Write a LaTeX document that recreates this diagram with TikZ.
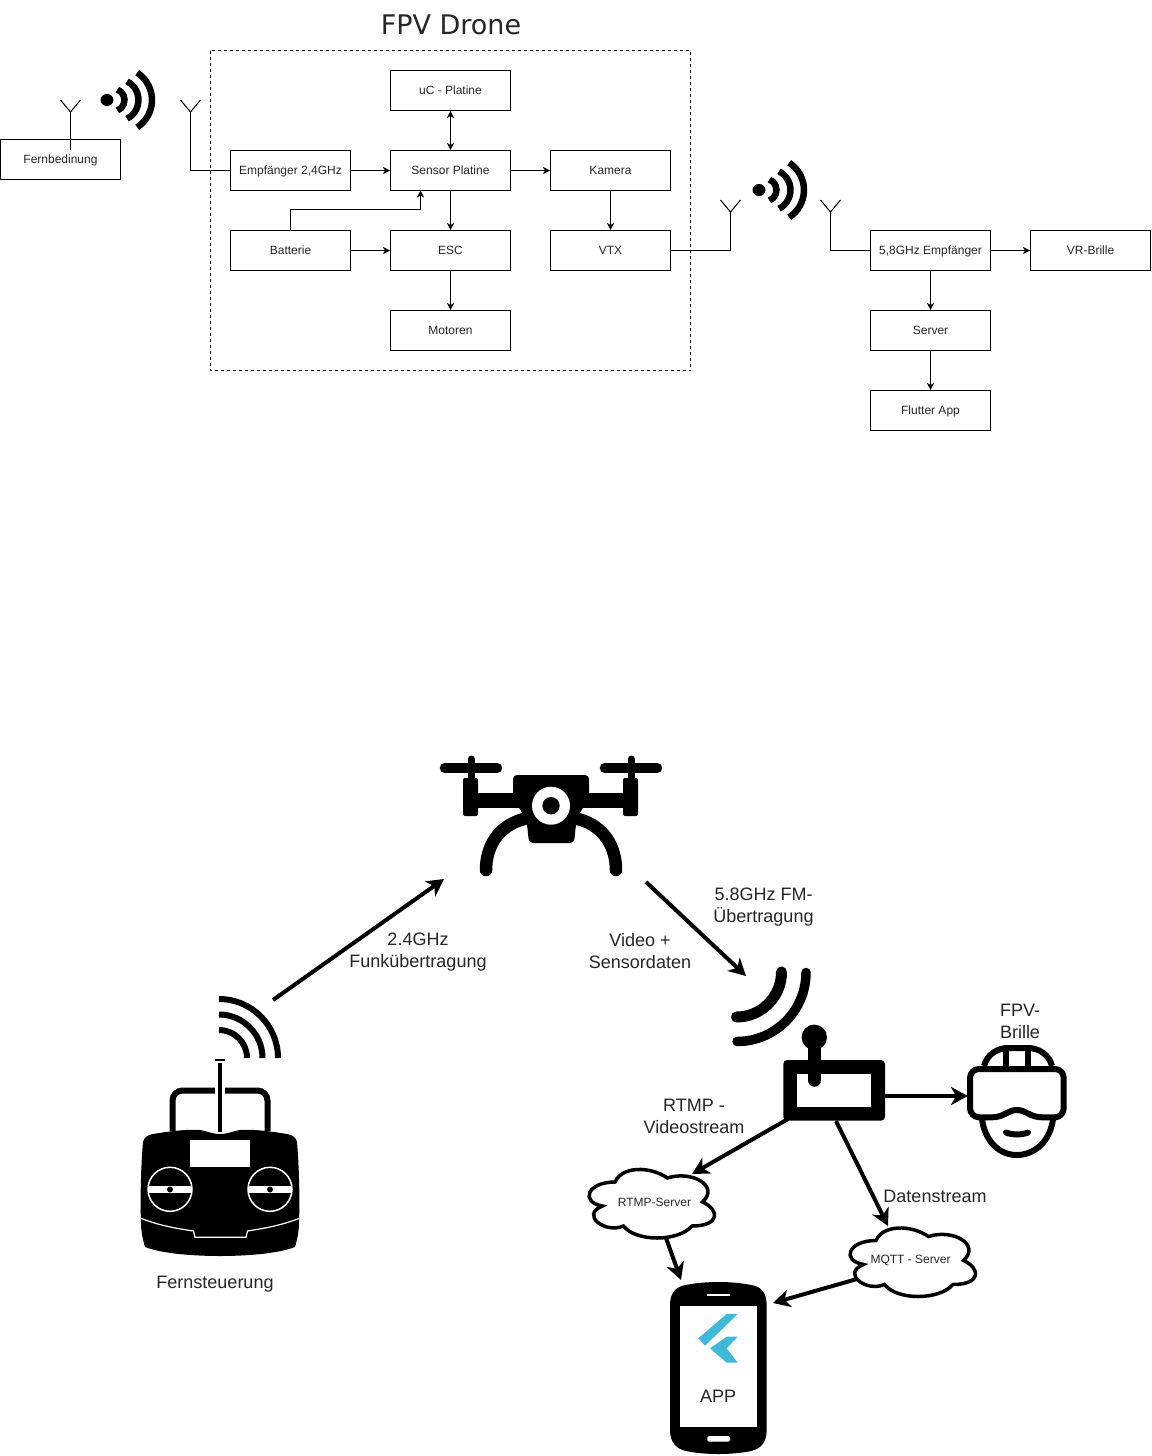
\documentclass[tikz,border=0pt]{standalone}
\usepackage{fontspec}
\setmainfont{Liberation Sans}
\newfontfamily\titlefont{DejaVu Sans}
\usetikzlibrary{arrows.meta}
\definecolor{flutter}{HTML}{40B8D8}
\tikzset{
  box/.style={draw=black,line width=1pt,minimum width=120pt,minimum height=40pt,inner sep=0pt,font=\fontsize{12}{14}\selectfont,text=black!85,text height=10pt,text depth=2pt},
  frame/.style={draw=black,line width=1pt,dash pattern=on 3pt off 3pt},
  wire/.style={draw=black,line width=1pt},
  arr/.style={wire,-{Stealth[length=7pt,width=7pt,inset=2pt]}},
  dblarr/.style={wire,{Stealth[length=7pt,width=7pt,inset=2pt]}-{Stealth[length=7pt,width=7pt,inset=2pt]}},
  bigarr/.style={draw=black,line width=4pt,-{Stealth[length=17pt,width=18pt,inset=5pt]}},
  lbl/.style={align=center,font=\fontsize{18}{22}\selectfont,text=black!85,inner sep=0pt},
  cloudlbl/.style={font=\fontsize{12}{14}\selectfont,text=black!85,inner sep=0pt},
  cloudline/.style={draw=black,fill=white,line width=3.5pt},
  sig/.style={draw=black,line width=6pt}
}
\newcommand{\cloudpath}[2]{%
  \begin{scope}[shift={(#1,#2)}]
  \path[cloudline] (35,20) .. controls (7,20) and (0,40) .. (22.4,44)
    .. controls (0,52.8) and (25.2,72) .. (43.4,64)
    .. controls (56,80) and (98,80) .. (112,64)
    .. controls (140,64) and (140,48) .. (122.5,40)
    .. controls (140,24) and (112,8) .. (87.5,16)
    .. controls (70,4) and (42,4) .. (35,20) -- cycle;
  \end{scope}}
\newcommand{\wifisymbol}[2]{%
  \begin{scope}[shift={(#1,#2)}]
  \fill (107,100) ellipse[x radius=6.5,y radius=6];
  \draw[line width=6.5pt] (113.2,100) ++(-68:11.3) arc[start angle=-68,end angle=68,radius=11.3];
  \draw[line width=6.5pt] (117.5,100) ++(-63:21) arc[start angle=-63,end angle=63,radius=21];
  \draw[line width=6.5pt] (119.5,100) ++(-57:32.5) arc[start angle=-57,end angle=57,radius=32.5];
  \end{scope}}
\begin{document}
\begin{tikzpicture}[x=1pt,y=-1pt]
\useasboundingbox (0,0) rectangle (1151,1456);
\fill[white] (0,0) rectangle (1151,1456);

% ---------- upper block diagram
\draw[frame] (210.5,50.5) rectangle (690.5,370.5);
\node[inner sep=0pt,font=\titlefont\fontsize{27}{32}\selectfont,text=black!85] (title) at (451,25) {FPV Drone};

\node[box] (fern) at (60.5,159.5) {Fernbedinung};
\node[box] (uc) at (450.5,90.5) {uC - Platine};
\node[box] (emp) at (290.5,170.5) {Empfänger 2,4GHz};
\node[box] (sensor) at (450.5,170.5) {Sensor Platine};
\node[box] (kamera) at (610.5,170.5) {Kamera};
\node[box] (batt) at (290.5,250.5) {Batterie};
\node[box] (esc) at (450.5,250.5) {ESC};
\node[box] (vtx) at (610.5,250.5) {VTX};
\node[box] (motoren) at (450.5,330.5) {Motoren};
\node[box] (emp58) at (930.5,250.5) {5,8GHz Empfänger};
\node[box] (vr) at (1090.5,250.5) {VR-Brille};
\node[box] (server) at (930.5,330.5) {Server};
\node[box] (flutterapp) at (930.5,410.5) {Flutter App};

% antennas
\coordinate (a1) at (70.5,112);
\coordinate (a2) at (190.5,112);
\coordinate (a3) at (730.5,212);
\coordinate (a4) at (830.5,212);
\coordinate (a1end) at (70.5,150);
\foreach \p in {a1,a2,a3,a4}{
  \draw[wire] (\p) ++(-10,-12) -- (\p) -- ++(10,-12);
}
\draw[wire] (a1) -- (a1end);
\draw[wire] (a2) |- (emp.west);
\draw[wire] (vtx.east) -| (a3);
\draw[wire] (a4) |- (emp58.west);

\wifisymbol{0}{0}
\wifisymbol{652}{90}

\draw[dblarr] (uc.south) -- (sensor.north);
\draw[arr] (emp.east) -- (sensor.west);
\draw[arr] (sensor.east) -- (kamera.west);
\draw[arr] (sensor.south) -- (esc.north);
\draw[arr] (kamera.south) -- (vtx.north);
\draw[arr] (batt.east) -- (esc.west);
\draw[arr] (esc.south) -- (motoren.north);
\coordinate (sensorin) at (420.5,190.5);
\draw[arr] (batt.north) |- (420.5,209.5) -- (sensorin);
\draw[arr] (emp58.east) -- (vr.west);
\draw[arr] (emp58.south) -- (server.north);
\draw[arr] (server.south) -- (flutterapp.north);

% ---------- drone icon
\fill[rounded corners=2pt] (463,778) rectangle (478,816);
\fill[rounded corners=2pt] (623,778) rectangle (638,816);
\fill (470,793) rectangle (632,808);
\draw[line width=7pt,line cap=round] (471,759) -- (471,782);
\draw[line width=7pt,line cap=round] (631,759) -- (631,782);
\draw[line width=10.5pt,line cap=round] (445,768) -- (497,768);
\draw[line width=10.5pt,line cap=round] (605,768) -- (657,768);
\draw[line width=12.5pt,line cap=round] (524,819) .. controls (497,826) and (486,848) .. (486,870);
\draw[line width=12.5pt,line cap=round] (578,819) .. controls (605,826) and (616,848) .. (616,870);
\fill[rounded corners=4pt] (513,775) -- (589,775) -- (589,800) -- (580,812) -- (576,824) -- (574,843) -- (529,843) -- (527,824) -- (522,812) -- (513,800) -- cycle;
\fill[white] (551,805.7) circle[radius=19];
\fill (551,805.7) circle[radius=8.7];

% ---------- remote control icon
\coordinate (rcsig) at (219,1058);
\draw[sig] (rcsig) ++(-90:59) arc[start angle=-90,end angle=0,radius=59];
\draw[sig] (rcsig) ++(-90:43.5) arc[start angle=-90,end angle=0,radius=43.5];
\draw[sig] (rcsig) ++(-90:28) arc[start angle=-90,end angle=0,radius=28];
\draw[line width=6pt,rounded corners=10pt] (172.5,1131) -- (172.5,1090.5) -- (267.5,1090.5) -- (267.5,1131);
\fill[white] (215,1086) rectangle (225,1096);
\fill (214.7,1058.5) rectangle (225.3,1061);
\fill (217.7,1063) rectangle (222.3,1132);
\fill (143,1142) .. controls (144,1137) and (148,1135) .. (153,1134)
  .. controls (170,1131) and (190,1129) .. (200,1130)
  .. controls (207,1131) and (212,1134) .. (220,1134)
  .. controls (228,1134) and (233,1131) .. (240,1130)
  .. controls (250,1129) and (270,1131) .. (287,1134)
  .. controls (292,1135) and (296,1137) .. (297,1142)
  .. controls (299,1165) and (300,1200) .. (299,1222)
  .. controls (299,1232) and (297,1240) .. (295,1247)
  .. controls (280,1253) and (250,1256) .. (220,1256)
  .. controls (190,1256) and (160,1253) .. (145,1247)
  .. controls (143,1240) and (141,1232) .. (141,1222)
  .. controls (140,1200) and (141,1165) .. (143,1142) -- cycle;
\fill[white] (190,1140) rectangle (250,1167.3);
\foreach \cx in {170,270}{
  \draw[white,line width=1.5pt] (\cx,1189.3) circle[radius=22];
  \fill[white] (\cx-22,1186) rectangle (\cx+22,1193);
  \fill (\cx,1189.5) circle[radius=3];
}
\draw[white,line width=1.2pt] (141,1218.3) .. controls (160,1226) and (180,1229) .. (193.5,1231) -- (195,1237.3) -- (246,1237.3) -- (247.5,1231) .. controls (260,1229) and (280,1226) .. (299.3,1218.3);

% ---------- receiver icon
\draw[line width=11pt,line cap=round] (781.5,972) arc[start angle=0,end angle=90,radius=45];
\draw[line width=9.5pt,line cap=round] (806,972.5) arc[start angle=0,end angle=90,radius=69];
\fill[rounded corners=4pt] (783.3,1060) rectangle (885,1120.7);
\fill[white] (797.3,1074.3) rectangle (870.7,1106.7);
\fill (814.3,1037.3) circle[radius=12.7];
\draw[line width=13.5pt,line cap=round] (814.3,1040) -- (814.3,1080);

% ---------- goggles icon
\draw[line width=6pt] (984,1066) .. controls (987,1054) and (998,1048) .. (1008,1048) -- (1028,1048) .. controls (1038,1048) and (1049,1054) .. (1052,1066);
\draw[line width=6pt] (1006,1046) -- (1006,1068);
\draw[line width=6pt] (1028.3,1046) -- (1028.3,1068);
\draw[line width=5pt] (1004,1047) -- (1030,1047);
\draw[line width=6pt] (982,1119) .. controls (985,1142) and (1000,1155) .. (1016.7,1155) .. controls (1034,1155) and (1050,1142) .. (1053,1119);
\draw[line width=6pt,line join=round] (979,1069) -- (1055,1069)
  .. controls (1060,1069) and (1063.7,1073) .. (1063.7,1078) -- (1063.7,1108)
  .. controls (1063.7,1113) and (1060,1117.3) .. (1055,1117.3) -- (1042,1117.3)
  .. controls (1030,1117.3) and (1026,1110) .. (1016.7,1110)
  .. controls (1008,1110) and (1004,1117.3) .. (992,1117.3) -- (979,1117.3)
  .. controls (974,1117.3) and (970,1113) .. (970,1108) -- (970,1078)
  .. controls (970,1073) and (974,1069) .. (979,1069) -- cycle;
\draw[line width=6pt,line cap=round] (1006,1132.5) .. controls (1012,1135) and (1022,1135) .. (1028,1132.5);

% ---------- phone icon
\fill (670,1305) .. controls (670,1292) and (677,1286) .. (686,1285)
  .. controls (705,1281) and (732,1281) .. (751,1285)
  .. controls (760,1286) and (766.7,1292) .. (766.7,1305)
  -- (766.7,1430)
  .. controls (766.7,1443) and (760,1449) .. (751,1451)
  .. controls (732,1455) and (705,1455) .. (686,1451)
  .. controls (677,1449) and (670,1443) .. (670,1430) -- cycle;
\fill[white] (680,1305.7) rectangle (757.3,1426.7);
\fill[white] (707.3,1294.3) rectangle (730,1296);
\fill[white,rounded corners=1.5pt] (707.3,1436) rectangle (730,1441.7);
\fill[flutter] (698.3,1338.3) -- (726.7,1314) -- (737.7,1314) -- (705,1345.7) -- cycle;
\fill[flutter] (710,1348.3) -- (726.7,1336.7) -- (737.7,1336.7) -- (726.7,1348.3) -- (737.7,1362.7) -- (726.7,1362.7) -- cycle;
\node[lbl] (applbl) at (718,1396) {APP};

% ---------- clouds
\cloudpath{580}{1162}
\node[cloudlbl] (rtmp) at (654.5,1202.5) {RTMP-Server};
\cloudpath{841}{1220.5}
\node[cloudlbl] (mqtt) at (910.5,1260.5) {MQTT - Server};

% ---------- big connectors
\coordinate (rcout) at (273,1000);
\coordinate (dronein) at (444,879);
\coordinate (droneout) at (646,882);
\coordinate (rxin) at (746,976);
\coordinate (rxright) at (885,1096);
\coordinate (gogglein) at (968,1096);
\coordinate (rxleft) at (788,1119);
\coordinate (rtmpin) at (692,1174);
\coordinate (rxbottom) at (836,1121);
\coordinate (mqttin) at (888,1226);
\coordinate (rtmpout) at (666,1238);
\coordinate (phonetop) at (681,1280);
\coordinate (mqttout) at (857,1279);
\coordinate (phoneright) at (773,1303);
\draw[bigarr] (rcout) -- (dronein);
\draw[bigarr] (droneout) -- (rxin);
\draw[bigarr] (rxright) -- (gogglein);
\draw[bigarr] (rxleft) -- (rtmpin);
\draw[bigarr] (rxbottom) -- (mqttin);
\draw[bigarr] (rtmpout) -- (phonetop);
\draw[bigarr] (mqttout) -- (phoneright);

% ---------- labels
\node[lbl] (l24) at (418,952) {2.4GHz\\Funkübertragung};
\node[lbl] (lvideo) at (640,951) {Video +\\Sensordaten};
\node[lbl] (l58) at (763.5,907) {5.8GHz FM-\\Übertragung};
\node[lbl] (lfpv) at (1020,1021) {FPV-\\Brille};
\node[lbl] (lrtmp) at (694,1116) {RTMP -\\Videostream};
\node[lbl] (ldaten) at (935,1196) {Datenstream};
\node[lbl] (lfern) at (215,1284) {Fernsteuerung};
\end{tikzpicture}
\end{document}
